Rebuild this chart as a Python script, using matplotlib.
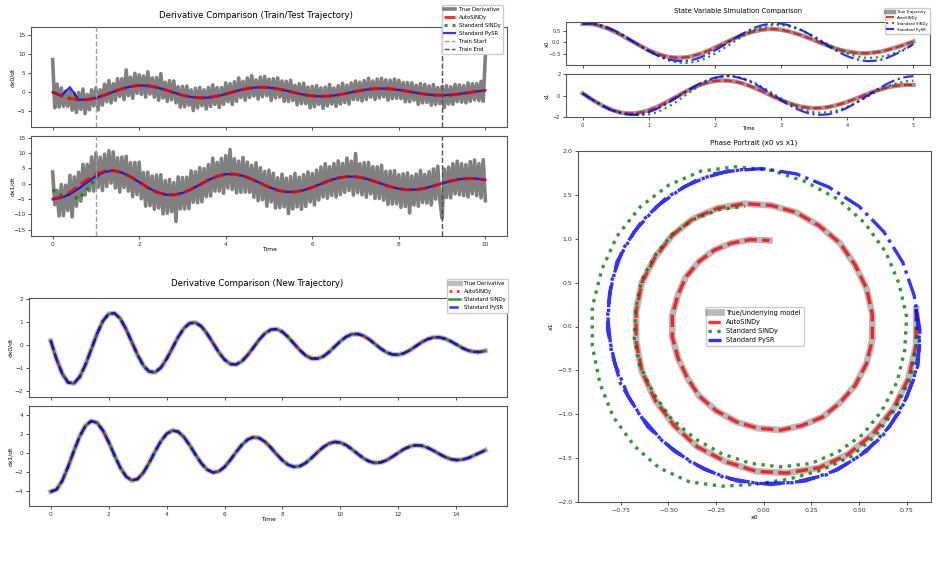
import numpy as np
import matplotlib.pyplot as plt

# ---- data ----
# train/test trajectory, noisy true derivative (t = 0..10, step 0.05)
train_dx0_true = [8.5, -4.1, 2.1, -3.9, 1.1, -3.7, 0.3, -3.7, 0.5, -4.7, -0.3, -5.3, -0.1, -4.5, 0.8, -5.6, -0.6, -4.6, 0.6, -3.6,
                  1.1, -4.6, 0.6, -3.4, 2.1, -2.5, 3.0, -2.8, 2.2, -2.1, 3.5, -1.1, 3.5, -1.9, 5.8, -0.9, 3.9, -1.6, 4.9, -0.3,
                  4.5, -0.6, 4.2, -1.3, 5.3, -0.5, 3.7, -1.3, 3.8, -2.1, 4.8, -1.5, 2.6, -2.4, 3.0, -2.0, 2.9, -2.8, 1.4, -3.9,
                  1.5, -3.8, 1.6, -3.4, 0.6, -4.8, 1.0, -4.1, 1.2, -3.5, 0.6, -4.4, 1.2, -3.7, 1.9, -3.2, 1.2, -4.0, 1.2, -3.2,
                  2.4, -2.5, 2.2, -3.2, 2.7, -2.4, 3.7, -1.4, 2.8, -2.1, 3.7, -1.4, 4.3, -1.0, 3.2, -1.8, 3.9, -1.2, 4.1, -0.9,
                  3.4, -2.2, 3.5, -1.5, 3.7, -1.3, 2.9, -2.4, 2.8, -2.4, 3.1, -2.2, 1.8, -3.3, 2.2, -3.0, 2.3, -3.0, 1.3, -4.1,
                  1.5, -3.8, 1.7, -3.2, 1.1, -4.2, 1.3, -3.6, 2.0, -3.1, 1.1, -3.7, 1.7, -3.1, 2.3, -2.7, 1.8, -3.1, 2.4, -1.9,
                  2.9, -2.0, 2.6, -2.3, 3.0, -1.9, 3.6, -1.3, 2.9, -1.9, 3.4, -1.5, 3.6, -1.2, 3.2, -2.1, 3.1, -1.7, 3.4, -1.6,
                  3.1, -1.7, 2.5, -2.5, 2.5, -2.5, 2.4, -2.1, 1.8, -3.2, 2.2, -2.8, 2.0, -2.7, 1.6, -3.4, 2.0, -3.2, 1.2, -3.0,
                  1.5, -4.0, 1.7, -3.1, 1.4, -3.2, 2.0, -2.5, 1.9, -2.6, 1.7, -2.8, 2.4, -2.4, 2.2, -2.0, 2.2, -2.2, 2.8, -2.4,
                  9.5]
train_dx1_true = [3.8, -6.8, -2.2, -10.5, -0.3, -10.4, -0.5, -8.7, 2.7, -10.8, 2.2, -7.3, 3.7, -5.7, 6.3, -3.7, 6.3, -2.3, 8.7, -2.4,
                  10.0, -1.2, 8.6, -2.2, 9.6, -0.9, 10.7, 0.2, 10.3, -1.4, 8.4, -2.7, 8.6, -1.2, 8.9, -2.4, 6.8, -4.2, 6.9, -3.5,
                  7.0, -4.9, 3.6, -7.3, 3.7, -7.1, 2.5, -8.3, 2.8, -7.9, 2.9, -9.8, 1.0, -9.6, 1.4, -9.1, 0.3, -12.3, 2.2, -8.2,
                  2.0, -8.2, 2.1, -8.1, 4.2, -6.0, 3.9, -6.2, 5.2, -5.9, 4.9, -4.2, 6.2, -4.0, 8.3, -2.4, 6.9, -2.4, 8.2, -3.1,
                  9.1, -1.4, 11.1, -1.9, 8.1, -3.0, 7.3, -2.8, 8.5, -2.7, 7.0, -2.8, 6.0, -4.4, 6.8, -5.5, 5.2, -5.2, 4.0, -7.3,
                  4.4, -5.9, 3.4, -7.9, 1.9, -7.8, 3.1, -7.5, 1.8, -9.7, 2.3, -8.2, 3.3, -7.5, 2.1, -8.3, 2.9, -7.4, 3.8, -5.9,
                  3.3, -6.9, 4.4, -5.3, 5.4, -4.3, 6.5, -4.7, 5.5, -3.8, 6.5, -4.3, 7.4, -3.5, 6.6, -2.8, 8.3, -2.2, 7.3, -3.7,
                  9.8, -2.9, 6.5, -3.6, 6.8, -4.4, 6.9, -3.3, 5.5, -4.8, 5.5, -4.8, 6.0, -5.3, 4.0, -6.7, 4.1, -6.6, 4.2, -6.5,
                  2.9, -7.7, 3.2, -7.4, 3.5, -9.5, 2.5, -6.9, 3.1, -7.3, 4.3, -6.1, 3.0, -6.3, 3.9, -6.9, 4.8, -5.0, 5.7, -5.6,
                  -11.2, 4.8, -4.5, 5.4, -4.6, 6.5, -3.3, 7.3, -3.6, 6.5, -3.9, 6.2, -4.3, 7.2, -3.3, 7.7, -3.9, 6.5, -4.6, 7.8,
                  -5.5]

# model derivatives on the train/test trajectory (t = 0..10, step 0.2)
train_dx0_fit = [0, -0.94, -1.66, -2.01, -1.95, -1.51, -0.78, 0.07, 0.87, 1.46, 1.74, 1.66, 1.26, 0.62, -0.11, -0.79, -1.28,
                 -1.50, -1.41, -1.04, -0.48, 0.15, 0.72, 1.12, 1.29, 1.19, 0.86, 0.38, -0.17, -0.65, -0.98, -1.11, -1.01, -0.71,
                 -0.29, 0.18, 0.59, 0.86, 0.95, 0.85, 0.59, 0.22, -0.18, -0.53, -0.75, -0.82, -0.72, -0.48, -0.16, 0.18, 0.47]
train_dx0_pysr = [0, -0.94, 1.3, -2.01, -1.95, -1.51, -0.78, 0.07, 0.87, 1.46, 1.74, 1.66, 1.26, 0.62, -0.11, -0.79, -1.28,
                  -1.50, -1.41, -1.04, -0.48, 0.15, 0.72, 1.12, 1.29, 1.19, 0.86, 0.38, -0.17, -0.65, -0.98, -1.11, -1.01, -0.71,
                  -0.29, 0.18, 0.59, 0.86, 0.95, 0.85, 0.59, 0.22, -0.18, -0.53, -0.75, -0.82, -0.72, -0.48, -0.16, 0.18, 0.47]
train_dx1_fit = [-5.00, -4.30, -2.77, -0.76, 1.31, 3.04, 4.09, 4.27, 3.61, 2.26, 0.52, -1.26, -2.70, -3.55, -3.66, -3.03,
                 -1.83, -0.32, 1.19, 2.40, 3.08, 3.12, 2.54, 1.48, 0.17, -1.11, -2.12, -2.66, -2.66, -2.12, -1.19, -0.06, 1.03,
                 1.87, 2.31, 2.26, 1.77, 0.95, -0.02, -0.95, -1.65, -1.99, -1.92, -1.48, -0.75, 0.09, 0.87, 1.45, 1.72, 1.63, 1.23]
train_dx1_sindy = [-2.0, -3.7, -3.6, -5.0, -1.8, 1.8, 4.09, 4.27, 3.61, 2.26, 0.52, -1.26, -2.70, -3.55, -3.66, -3.03,
                   -1.83, -0.32, 1.19, 2.40, 3.08, 3.12, 2.54, 1.48, 0.17, -1.11, -2.12, -2.66, -2.66, -2.12, -1.19, -0.06, 1.03,
                   1.87, 2.31, 2.26, 1.77, 0.95, -0.02, -0.95, -1.65, -1.99, -1.92, -1.48, -0.75, 0.09, 0.87, 1.45, 1.72, 1.63, 1.23]
train_dx1_pysr = [-5.1, -4.6, -3.4, -1.6, 0.5, 2.5, 3.8, 4.27, 3.61, 2.26, 0.52, -1.26, -2.70, -3.55, -3.66, -3.03,
                  -1.83, -0.32, 1.19, 2.40, 3.08, 3.12, 2.54, 1.48, 0.17, -1.11, -2.12, -2.66, -2.66, -2.12, -1.19, -0.06, 1.03,
                  1.87, 2.31, 2.26, 1.77, 0.95, -0.02, -0.95, -1.65, -1.99, -1.92, -1.48, -0.75, 0.09, 0.87, 1.45, 1.72, 1.63, 1.23]

# new trajectory derivatives (t = 0..15, step 0.2); all four models lie on top of each other
new_dx0 = [0.20, -0.60, -1.24, -1.61, -1.65, -1.37, -0.84, -0.17, 0.50, 1.05, 1.36, 1.39, 1.16, 0.70, 0.14, -0.42, -0.88,
           -1.14, -1.17, -0.97, -0.59, -0.12, 0.36, 0.74, 0.96, 0.98, 0.82, 0.50, 0.10, -0.30, -0.62, -0.81, -0.83, -0.69,
           -0.42, -0.09, 0.25, 0.52, 0.68, 0.70, 0.58, 0.35, 0.07, -0.21, -0.44, -0.57, -0.58, -0.49, -0.30, -0.06, 0.18,
           0.37, 0.48, 0.49, 0.41, 0.25, 0.05, -0.15, -0.31, -0.40, -0.41, -0.34, -0.21, -0.04, 0.13, 0.26, 0.34, 0.35,
           0.29, 0.18, 0.04, -0.11, -0.22, -0.28, -0.29, -0.24]
new_dx1 = [-4.04, -3.82, -2.88, -1.41, 0.25, 1.78, 2.90, 3.40, 3.21, 2.41, 1.18, -0.21, -1.50, -2.44, -2.86, -2.70, -2.03,
           -1.00, 0.18, 1.26, 2.05, 2.40, 2.27, 1.70, 0.84, -0.15, -1.06, -1.72, -2.02, -1.91, -1.44, -0.70, 0.13, 0.89,
           1.45, 1.70, 1.60, 1.20, 0.59, -0.11, -0.75, -1.22, -1.43, -1.35, -1.02, -0.50, 0.09, 0.63, 1.02, 1.20, 1.13,
           0.85, 0.42, -0.07, -0.53, -0.86, -1.01, -0.95, -0.72, -0.35, 0.06, 0.45, 0.72, 0.85, 0.80, 0.60, 0.30, -0.05,
           -0.37, -0.61, -0.71, -0.67, -0.51, -0.25, 0.04, 0.32]

# simulated states (t = 0..5, step 0.1)
x0_true = [0.80, 0.80, 0.76, 0.68, 0.57, 0.44, 0.29, 0.12, -0.04, -0.20, -0.35, -0.47, -0.57, -0.64, -0.67, -0.67, -0.64,
           -0.57, -0.48, -0.37, -0.24, -0.10, 0.04, 0.17, 0.29, 0.40, 0.48, 0.54, 0.57, 0.57, 0.54, 0.48, 0.40, 0.31, 0.20,
           0.09, -0.03, -0.14, -0.25, -0.34, -0.40, -0.45, -0.48, -0.48, -0.45, -0.41, -0.34, -0.26, -0.17, -0.07, 0.03]
x1_true = [0.20, -0.21, -0.59, -0.94, -1.23, -1.46, -1.61, -1.67, -1.65, -1.54, -1.37, -1.13, -0.84, -0.51, -0.17, 0.17,
           0.50, 0.79, 1.04, 1.23, 1.35, 1.40, 1.38, 1.30, 1.15, 0.95, 0.70, 0.43, 0.14, -0.15, -0.42, -0.67, -0.87, -1.03,
           -1.13, -1.18, -1.16, -1.09, -0.96, -0.79, -0.59, -0.36, -0.12, 0.13, 0.36, 0.56, 0.74, 0.87, 0.95, 0.99, 0.98]
# AutoSINDy simulation sits on the true trajectory
x0_auto = x0_true
x1_auto = x1_true
x0_sindy = [0.80, 0.80, 0.77, 0.69, 0.59, 0.46, 0.30, 0.13, -0.05, -0.22, -0.39, -0.55, -0.68, -0.79, -0.86, -0.90, -0.90,
            -0.85, -0.77, -0.65, -0.50, -0.33, -0.15, 0.04, 0.22, 0.39, 0.53, 0.64, 0.71, 0.75, 0.74, 0.70, 0.62, 0.52,
            0.39, 0.25, 0.09, -0.07, -0.22, -0.36, -0.49, -0.58, -0.65, -0.68, -0.67, -0.64, -0.57, -0.48, -0.37, -0.24, -0.10]
x1_sindy = [0.20, -0.21, -0.59, -0.94, -1.24, -1.48, -1.64, -1.74, -1.80, -1.82, -1.77, -1.61, -1.36, -1.03, -0.65, -0.22,
            0.22, 0.65, 1.03, 1.36, 1.61, 1.77, 1.82, 1.78, 1.65, 1.45, 1.18, 0.85, 0.49, 0.11, -0.27, -0.63, -0.96, -1.23,
            -1.43, -1.56, -1.60, -1.56, -1.45, -1.28, -1.04, -0.76, -0.45, -0.12, 0.22, 0.53, 0.81, 1.05, 1.22, 1.33, 1.37]
x0_pysr = [0.80, 0.82, 0.79, 0.72, 0.62, 0.48, 0.33, 0.15, -0.03, -0.21, -0.38, -0.53, -0.65, -0.75, -0.80, -0.82, -0.80,
           -0.74, -0.64, -0.51, -0.36, -0.19, -0.01, 0.17, 0.34, 0.50, 0.63, 0.73, 0.79, 0.82, 0.81, 0.75, 0.66, 0.54,
           0.39, 0.22, 0.04, -0.14, -0.31, -0.47, -0.61, -0.71, -0.78, -0.82, -0.81, -0.77, -0.68, -0.56, -0.42, -0.26, -0.08]
x1_pysr = [0.20, -0.20, -0.59, -0.95, -1.26, -1.51, -1.69, -1.78, -1.79, -1.72, -1.55, -1.31, -1.01, -0.66, -0.28, 0.12,
           0.51, 0.88, 1.20, 1.47, 1.66, 1.77, 1.80, 1.74, 1.59, 1.37, 1.08, 0.73, 0.35, -0.04, -0.44, -0.81, -1.14, -1.42,
           -1.63, -1.76, -1.80, -1.76, -1.63, -1.42, -1.14, -0.80, -0.43, -0.04, 0.36, 0.74, 1.08, 1.37, 1.59, 1.74, 1.80]

t_noisy = np.linspace(0, 10, len(train_dx0_true))
t_train = np.linspace(0, 10, len(train_dx0_fit))
t_new = np.linspace(0, 15, len(new_dx0))
t_sim = np.linspace(0, 5, len(x0_true))

W, H = 940, 576
fig = plt.figure(figsize=(W / 100, H / 100), dpi=100)


def px_box(left, top, right, bottom):
    # pixel box (from top-left corner) -> figure fraction
    return [left / W, 1 - bottom / H, (right - left) / W, (bottom - top) / H]


def style(ax, size):
    for s in ax.spines.values():
        s.set_color('#555555')
        s.set_linewidth(0.8)
    ax.tick_params(labelsize=size, length=2.5, width=0.6, pad=1.5, colors='#333333')


# ---- derivative comparison, train/test trajectory ----
axA1 = fig.add_axes(px_box(31, 27, 507, 127))
axA2 = fig.add_axes(px_box(31, 136, 507, 236), sharex=axA1)
for ax, true_d, auto_d, sindy_d, pysr_d in [(axA1, train_dx0_true, train_dx0_fit, train_dx0_fit, train_dx0_pysr),
                                            (axA2, train_dx1_true, train_dx1_fit, train_dx1_sindy, train_dx1_pysr)]:
    ax.plot(t_noisy, true_d, color='gray', lw=2.6, label='True Derivative', zorder=1)
    ax.plot(t_train, auto_d, color='red', ls='--', lw=2.2, alpha=0.8, label='AutoSINDy', zorder=4)
    ax.plot(t_train, sindy_d, color='green', ls=':', lw=2.2, alpha=0.8, label='Standard SINDy', zorder=2)
    ax.plot(t_train, pysr_d, color='blue', lw=1.6, alpha=0.8, label='Standard PySR', zorder=3)
    ax.axvline(1, color='#a0a0a0', ls='--', lw=1, label='Train Start', zorder=5)
    ax.axvline(9, color='#505050', ls='--', lw=1, label='Train End', zorder=5)
    style(ax, 4.2)
axA1.set_xlim(-0.5, 10.5)
axA1.set_xticks(range(0, 11, 2))
axA1.set_ylim(-9.1, 17)
axA1.set_yticks([-5, 0, 5, 10, 15])
axA2.set_ylim(-17, 15.5)
axA2.set_yticks([-15, -10, -5, 0, 5, 10, 15])
axA1.tick_params(labelbottom=False)
axA1.set_ylabel('dx0/dt', fontsize=4.3)
axA2.set_ylabel('dx1/dt', fontsize=4.3)
axA1.yaxis.set_label_coords(-0.034, 0.5)
axA2.yaxis.set_label_coords(-0.034, 0.5)
axA2.set_xlabel('Time', fontsize=4.3)
axA2.xaxis.set_label_coords(0.5, -0.11)
fig.text(256 / W, 1 - 15 / H, 'Derivative Comparison (Train/Test Trajectory)', ha='center', va='center', fontsize=6.2)
h, l = axA1.get_legend_handles_labels()
fig.legend(h, l, loc='upper right', bbox_to_anchor=(506 / W, 1 - 2 / H), fontsize=3.8, framealpha=1,
           borderpad=0.5, labelspacing=0.55)

# ---- derivative comparison, new trajectory ----
axB1 = fig.add_axes(px_box(29, 298, 507, 397))
axB2 = fig.add_axes(px_box(29, 406, 507, 506), sharex=axB1)
for ax, d in [(axB1, new_dx0), (axB2, new_dx1)]:
    ax.plot(t_new, d, color='#bdbdbd', lw=3.8, label='True Derivative', zorder=1)
    ax.plot(t_new, d, color='red', ls=':', lw=2, alpha=0.8, label='AutoSINDy', zorder=3)
    ax.plot(t_new, d, color='green', lw=1.8, alpha=0.8, label='Standard SINDy', zorder=2)
    ax.plot(t_new, d, color='blue', ls='--', lw=1.8, alpha=0.8, label='Standard PySR', zorder=4)
    style(ax, 4.2)
axB1.set_xlim(-0.75, 15.75)
axB1.set_xticks(range(0, 15, 2))
axB1.set_ylim(-2.24, 2.05)
axB1.set_yticks([-2, -1, 0, 1, 2])
axB2.set_ylim(-5.55, 4.98)
axB2.set_yticks([-4, -2, 0, 2, 4])
axB1.tick_params(labelbottom=False)
axB1.set_ylabel('dx0/dt', fontsize=4.3)
axB2.set_ylabel('dx1/dt', fontsize=4.3)
axB1.yaxis.set_label_coords(-0.033, 0.5)
axB2.yaxis.set_label_coords(-0.033, 0.5)
axB2.set_xlabel('Time', fontsize=4.3)
axB2.xaxis.set_label_coords(0.5, -0.11)
fig.text(257 / W, 1 - 283 / H, 'Derivative Comparison (New Trajectory)', ha='center', va='center', fontsize=6.2)
h, l = axB1.get_legend_handles_labels()
fig.legend(h, l, loc='upper right', bbox_to_anchor=(511 / W, 1 - 276 / H), fontsize=3.8, framealpha=1,
           borderpad=0.5, labelspacing=0.55)

# ---- state variable simulation ----
axC1 = fig.add_axes(px_box(566, 22, 930, 65))
axC2 = fig.add_axes(px_box(566, 74, 930, 117), sharex=axC1)
for ax, tr, au, si, py in [(axC1, x0_true, x0_auto, x0_sindy, x0_pysr), (axC2, x1_true, x1_auto, x1_sindy, x1_pysr)]:
    ax.plot(t_sim, tr, color='gray', lw=3.2, alpha=0.8, label='True Trajectory')
    ax.plot(t_sim, au, color='red', ls='--', lw=1.6, alpha=0.8, label='AutoSINDy')
    ax.plot(t_sim, si, color='green', ls=':', lw=1.6, alpha=0.8, label='Standard SINDy')
    ax.plot(t_sim, py, color='blue', ls='-.', lw=1.6, alpha=0.8, label='Standard PySR')
    style(ax, 3.7)
axC1.set_xlim(-0.25, 5.25)
axC1.set_ylim(-0.99, 0.88)
axC1.set_yticks([-0.5, 0.0, 0.5])
axC2.set_ylim(-2, 2)
axC2.set_yticks([-2, 0, 2])
axC1.tick_params(labelbottom=False)
axC1.set_ylabel('x0', fontsize=3.7)
axC2.set_ylabel('x1', fontsize=3.7)
axC1.yaxis.set_label_coords(-0.045, 0.5)
axC2.yaxis.set_label_coords(-0.045, 0.5)
axC2.set_xlabel('Time', fontsize=3.7)
axC2.xaxis.set_label_coords(0.5, -0.21)
fig.text(738 / W, 1 - 11 / H, 'State Variable Simulation Comparison', ha='center', va='center', fontsize=4.9)
h, l = axC1.get_legend_handles_labels()
fig.legend(h, l, loc='upper right', bbox_to_anchor=(932 / W, 1 - 6 / H), fontsize=2.8, framealpha=1,
           borderpad=0.5, labelspacing=0.5)

# ---- phase portrait ----
axD = fig.add_axes(px_box(578, 151, 931, 502))
axD.plot(x0_true, x1_true, color='gray', lw=4.8, alpha=0.55, label='True/Underlying model')
axD.plot(x0_auto, x1_auto, color='red', ls='--', lw=2.4, alpha=0.8, label='AutoSINDy')
axD.plot(x0_sindy, x1_sindy, color='green', ls=':', lw=2.4, alpha=0.8, label='Standard SINDy')
axD.plot(x0_pysr, x1_pysr, color='blue', ls='-.', lw=2.4, alpha=0.8, label='Standard PySR')
style(axD, 4.5)
axD.set_xlim(-0.975, 0.878)
axD.set_ylim(-2, 2)
axD.set_xticks([-0.75, -0.5, -0.25, 0, 0.25, 0.5, 0.75])
axD.set_yticks([-2, -1.5, -1, -0.5, 0, 0.5, 1, 1.5, 2])
axD.set_xlabel('x0', fontsize=4.5)
axD.set_ylabel('x1', fontsize=4.5)
axD.xaxis.set_label_coords(0.5, -0.037)
axD.yaxis.set_label_coords(-0.068, 0.5)
fig.text(754 / W, 1 - 143 / H, 'Phase Portrait (x0 vs x1)', ha='center', va='center', fontsize=5.1)
axD.legend(loc='center', fontsize=4.7, framealpha=1)

plt.savefig('out.png', dpi=100)
